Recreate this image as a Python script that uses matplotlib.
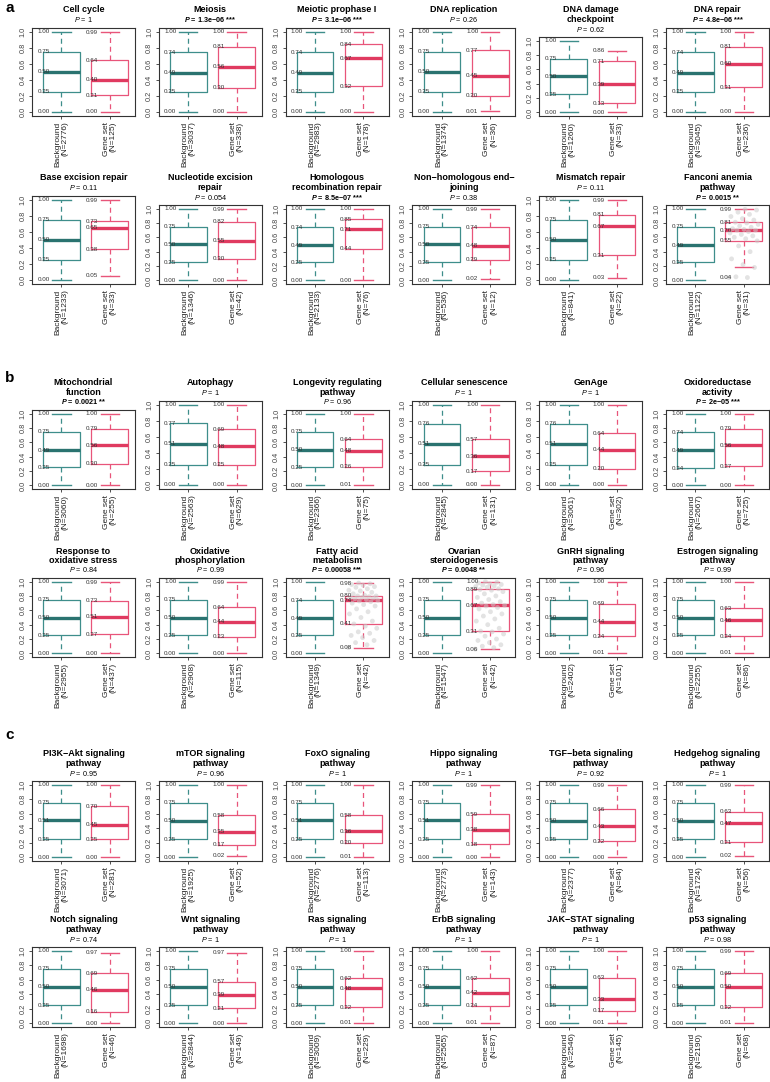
import numpy as np
import matplotlib.pyplot as plt

plt.rcParams['font.family'] = ['Liberation Sans', 'DejaVu Sans']
plt.rcParams['mathtext.fontset'] = 'custom'
plt.rcParams['mathtext.rm'] = 'Liberation Sans'
plt.rcParams['mathtext.it'] = 'Liberation Sans:italic'
plt.rcParams['mathtext.bf'] = 'Liberation Sans:bold:italic'

# ---- data -------------------------------------------------------------
titles = [
    "Cell cycle", "Meiosis", "Meiotic prophase I", "DNA replication",
    "DNA damage\ncheckpoint", "DNA repair",
    "Base excision repair", "Nucleotide excision\nrepair",
    "Homologous\nrecombination repair", "Non\u2212homologous end\u2212\njoining",
    "Mismatch repair", "Fanconi anemia\npathway",
    "Mitochondrial\nfunction", "Autophagy", "Longevity regulating\npathway",
    "Cellular senescence", "GenAge", "Oxidoreductase\nactivity",
    "Response to\noxidative stress", "Oxidative\nphosphorylation",
    "Fatty acid\nmetabolism", "Ovarian\nsteroidogenesis",
    "GnRH signaling\npathway", "Estrogen signaling\npathway",
    "PI3K\u2212Akt signaling\npathway", "mTOR signaling\npathway",
    "FoxO signaling\npathway", "Hippo signaling\npathway",
    "TGF\u2212beta signaling\npathway", "Hedgehog signaling\npathway",
    "Notch signaling\npathway", "Wnt signaling\npathway",
    "Ras signaling\npathway", "ErbB signaling\npathway",
    "JAK\u2212STAT signaling\npathway", "p53 signaling\npathway",
]

p_labels = [
    "1", "1.3e\u221206 ***", "3.1e\u221206 ***", "0.26", "0.62", "4.8e\u221206 ***",
    "0.11", "0.054", "8.5e\u221207 ***", "0.38", "0.11", "0.0015 **",
    "0.0021 **", "1", "0.96", "1", "1", "2e\u221205 ***",
    "0.84", "0.99", "0.00058 ***", "0.0048 **", "0.96", "0.99",
    "0.95", "0.96", "1", "1", "0.92", "1",
    "0.74", "1", "1", "1", "1", "0.98",
]

bg_n = [2776, 3037, 2983, 1374, 1260, 3045, 1233, 1346, 2133, 536, 841, 1122,
        3060, 2563, 2366, 2845, 3061, 2667, 2955, 2908, 1349, 1547, 2402, 2255,
        3071, 1925, 2776, 2773, 2377, 1724, 1698, 2844, 3009, 2565, 2546, 2190]
gs_n = [125, 338, 178, 36, 33, 236, 33, 42, 76, 12, 22, 31,
        255, 629, 75, 131, 302, 725, 437, 115, 42, 42, 101, 86,
        281, 52, 113, 143, 84, 56, 46, 149, 229, 87, 145, 68]

# five-number summaries: (min, q1, median, q3, max)
bg_stats = [
    (0, .25, .50, .75, 1), (0, .25, .49, .74, 1), (0, .25, .49, .74, 1),
    (0, .25, .50, .75, 1), (0, .25, .50, .75, 1), (0, .25, .49, .74, 1),
    (0, .25, .50, .75, 1), (0, .25, .50, .75, 1), (0, .25, .49, .74, 1),
    (0, .25, .50, .75, 1), (0, .25, .50, .75, 1), (0, .25, .49, .75, 1),
    (0, .25, .49, .75, 1), (0, .25, .51, .77, 1), (0, .25, .50, .75, 1),
    (0, .25, .51, .76, 1), (0, .25, .51, .76, 1), (0, .24, .49, .74, 1),
    (0, .25, .50, .75, 1), (0, .25, .50, .75, 1), (0, .25, .49, .74, 1),
    (0, .25, .50, .75, 1), (0, .25, .50, .75, 1), (0, .25, .50, .75, 1),
    (0, .25, .51, .75, 1), (0, .25, .50, .75, 1), (0, .25, .51, .75, 1),
    (0, .25, .51, .75, 1), (0, .25, .50, .75, 1), (0, .25, .50, .75, 1),
    (0, .25, .50, .75, 1), (0, .25, .50, .75, 1), (0, .25, .50, .75, 1),
    (0, .25, .50, .75, 1), (0, .25, .50, .75, 1), (0, .25, .50, .75, 1),
]
gs_stats = [
    (0.00, .21, .40, .64, .99), (0.00, .30, .56, .81, 1.00), (0.00, .32, .67, .84, 1.00),
    (0.01, .20, .45, .77, 1.00), (0.00, .13, .39, .71, .86), (0.00, .31, .60, .81, 1.00),
    (0.05, .38, .65, .73, .99), (0.00, .30, .55, .82, .99), (0.00, .44, .71, .85, 1.00),
    (0.02, .29, .48, .74, .99), (0.03, .31, .67, .81, .99), (0.04, .55, .70, .81, .99),
    (0.00, .30, .56, .79, 1.00), (0.00, .25, .48, .69, 1.00), (0.01, .26, .48, .64, 1.00),
    (0.00, .17, .36, .57, 1.00), (0.00, .20, .44, .64, 1.00), (0.00, .27, .56, .79, 1.00),
    (0.00, .27, .51, .73, .99), (0.00, .23, .44, .64, .99), (0.08, .41, .74, .80, .98),
    (0.06, .31, .67, .89, 1.00), (0.01, .24, .44, .69, 1.00), (0.01, .24, .46, .63, 1.00),
    (0.00, .25, .45, .70, 1.00), (0.02, .17, .35, .58, 1.00), (0.01, .20, .36, .58, 1.00),
    (0.00, .18, .38, .59, .99), (0.00, .22, .43, .66, .99), (0.02, .21, .47, .63, .99),
    (0.00, .16, .46, .69, .97), (0.00, .21, .39, .57, .97), (0.01, .22, .48, .62, 1.00),
    (0.01, .24, .42, .62, 1.00), (0.01, .17, .33, .63, 1.00), (0.01, .22, .50, .69, .99),
]

# individual gene-set values shown as dots for the small sets
fanconi_points = [0.04, 0.04, 0.05, 0.18, 0.22, 0.30, 0.40, 0.48, 0.55, 0.58, 0.60,
                  0.62, 0.64, 0.66, 0.68, 0.70, 0.70, 0.71, 0.72, 0.74, 0.76, 0.78,
                  0.80, 0.81, 0.84, 0.86, 0.89, 0.92, 0.95, 0.98, 0.99]
fatty_acid_points = [0.08, 0.12, 0.15, 0.18, 0.22, 0.25, 0.28, 0.30, 0.35, 0.38, 0.41,
                     0.45, 0.50, 0.55, 0.58, 0.62, 0.66, 0.68, 0.70, 0.72, 0.73, 0.74,
                     0.75, 0.76, 0.77, 0.78, 0.78, 0.79, 0.80, 0.80, 0.81, 0.83, 0.85,
                     0.87, 0.88, 0.90, 0.92, 0.93, 0.95, 0.96, 0.97, 0.98]
ovarian_points = [0.06, 0.08, 0.10, 0.12, 0.15, 0.18, 0.20, 0.24, 0.27, 0.30, 0.31,
                  0.35, 0.40, 0.45, 0.48, 0.52, 0.55, 0.58, 0.62, 0.64, 0.66, 0.67,
                  0.68, 0.70, 0.72, 0.75, 0.78, 0.80, 0.83, 0.86, 0.88, 0.89, 0.90,
                  0.92, 0.93, 0.94, 0.95, 0.96, 0.97, 0.98, 0.99, 1.00]
gs_points = {11: fanconi_points, 20: fatty_acid_points, 21: ovarian_points}

section_labels = ["a", "b", "c"]

# ---- layout ------------------------------------------------------------
W, H = 770, 1082
row_title_y = [10, 178, 383, 551, 754, 920]
row_bottom = [116, 284, 489, 657, 861, 1027]
section_y = [8, 378, 735]

teal, teal_dark = '#3E8E8B', '#2A7370'
red, red_dark = '#E8557A', '#E03A60'
frame_col = '#333333'

fig = plt.figure(figsize=(W / 100, H / 100), dpi=100)

for s, lab in enumerate(section_labels):
    fig.text(5 / W, 1 - section_y[s] / H, lab, fontsize=11, fontweight='bold',
             ha='left', va='center')


def draw_box(ax, stats, pos, col, col_dark, points=None):
    lo, q1, med, q3, hi = stats
    whislo = lo
    if points is not None:
        pts = np.array(points)
        fence = q1 - 1.5 * (q3 - q1)
        whislo = pts[pts >= fence].min()
        offs = ((np.arange(len(pts)) * 0.618034) % 1 - 0.5) * 0.62
        ax.scatter(pos + offs, pts, s=12, color='#CCCCCC', alpha=0.55,
                   edgecolors='none', zorder=4)
    st = dict(med=med, q1=q1, q3=q3, whislo=whislo, whishi=hi, fliers=[])
    ax.bxp([st], positions=[pos], widths=0.76, capwidths=0.38, showfliers=False,
           boxprops=dict(color=col, lw=0.9),
           whiskerprops=dict(color=col, lw=0.9, linestyle=(0, (4, 3))),
           capprops=dict(color=col, lw=1.0),
           medianprops=dict(color=col_dark, lw=2.4, solid_capstyle='butt'))
    for v in (lo, q1, med, q3, hi):
        ax.text(pos - 0.5, v, f"{v:.2f}", fontsize=4.5, color='#333333',
                ha='left', va='center', zorder=5)


for k, title in enumerate(titles):
    row, col = divmod(k, 6)
    lines = title.split('\n')
    p_y = row_title_y[row] + 9.5 * len(lines)
    top = p_y + 8
    bottom = row_bottom[row]
    left = 32 + col * 126.8
    width = 103
    ax = fig.add_axes([left / W, 1 - bottom / H, width / W, (bottom - top) / H])
    cx = (left + width / 2) / W

    for j, ln in enumerate(lines):
        fig.text(cx, 1 - (row_title_y[row] + 9.5 * j) / H, ln, fontsize=6.5,
                 fontweight='bold', ha='center', va='center')
    sig = '*' in p_labels[k]
    ptxt = (r"$\mathbf{P}$" if sig else r"$\mathit{P}$") + " = " + p_labels[k]
    fig.text(cx, 1 - p_y / H, ptxt, fontsize=5.2, ha='center', va='center',
             fontweight='bold' if sig else 'normal')

    draw_box(ax, bg_stats[k], 1, teal, teal_dark)
    draw_box(ax, gs_stats[k], 2, red, red_dark, gs_points.get(k))

    ax.set_xlim(0.39, 2.52)
    ax.set_ylim(-0.05, 1.05)
    ax.set_yticks([0, 0.2, 0.4, 0.6, 0.8, 1.0])
    ax.set_yticklabels(["0.0", "0.2", "0.4", "0.6", "0.8", "1.0"], rotation=90,
                       va='center', fontsize=5.3, color='#444444')
    ax.set_xticks([1, 2])
    ax.set_xticklabels([f"Background\n(N={bg_n[k]})", f"Gene set\n(N={gs_n[k]})"],
                       rotation=90, ha='center', va='top', multialignment='right',
                       fontsize=6.0, color='#222222', linespacing=0.95)
    ax.tick_params(length=2.5, width=0.6, color=frame_col, pad=1.5)
    for sp in ax.spines.values():
        sp.set_linewidth(0.8)
        sp.set_color(frame_col)

fig.savefig('out.png', dpi=100)
